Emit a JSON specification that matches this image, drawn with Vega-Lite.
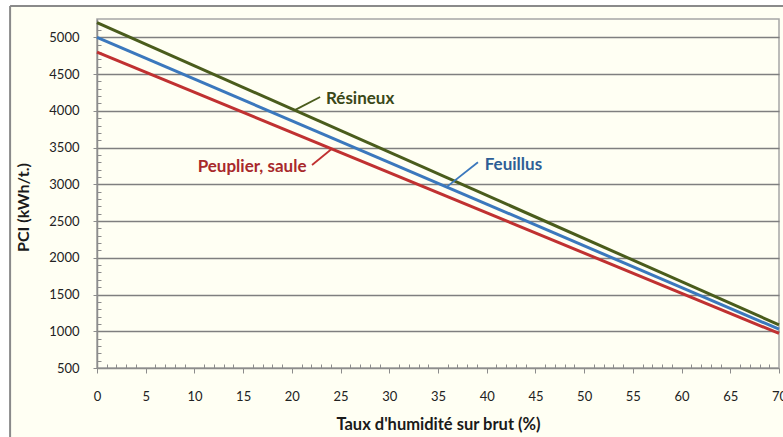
{
  "$schema": "https://vega.github.io/schema/vega-lite/v6.json",
  "width": 682,
  "height": 349,
  "autosize": {"type": "none"},
  "padding": {"left": 97, "top": 19, "right": 4, "bottom": 69},
  "background": "#FFFFF3",
  "config": {
    "view": {"stroke": "#A6A6A6", "strokeWidth": 1.5, "fill": null},
    "font": "Lato"
  },
  "resolve": {"axis": {"x": "independent", "y": "independent"}},
  "datasets": {
    "series": [
      {"espece": "Résineux", "h": 0, "pci": 5200},
      {"espece": "Résineux", "h": 70, "pci": 1088},
      {"espece": "Feuillus", "h": 0, "pci": 5000},
      {"espece": "Feuillus", "h": 70, "pci": 1028},
      {"espece": "Peuplier, saule", "h": 0, "pci": 4800},
      {"espece": "Peuplier, saule", "h": 70, "pci": 970}
    ],
    "leaders": [
      {"espece": "Résineux", "x": 20.3, "y": 4010, "x2": 22.9, "y2": 4188},
      {"espece": "Feuillus", "x": 35.9, "y": 2965, "x2": 39.1, "y2": 3300},
      {"espece": "Peuplier, saule", "x": 22.07, "y": 3263, "x2": 24.08, "y2": 3480}
    ],
    "labels": [
      {"espece": "Résineux", "x": 23.5, "y": 4165},
      {"espece": "Feuillus", "x": 39.8, "y": 3263},
      {"espece": "Peuplier, saule", "x": 21.5, "y": 3236}
    ]
  },
  "layer": [
    {
      "data": {"values": [{}]},
      "mark": {"type": "rect", "fill": "#FFFFFF"},
      "encoding": {
        "x": {"datum": -40, "type": "quantitative", "axis": null},
        "x2": {"datum": -8.92},
        "y": {"datum": 7000, "type": "quantitative", "axis": null},
        "y2": {"datum": -3000}
      }
    },
    {
      "data": {"values": [{}]},
      "mark": {"type": "rect", "fill": "#FFFFFF"},
      "encoding": {
        "x": {"datum": -40, "type": "quantitative", "axis": null},
        "x2": {"datum": 90},
        "y": {"datum": 7000, "type": "quantitative", "axis": null},
        "y2": {"datum": 5427}
      }
    },
    {
      "data": {"values": [{}]},
      "mark": {"type": "rule", "color": "#8A8A8A", "strokeWidth": 2},
      "encoding": {
        "x": {"datum": -8.92, "type": "quantitative", "axis": null},
        "y": {"datum": 5427, "type": "quantitative", "axis": null},
        "y2": {"datum": -3000}
      }
    },
    {
      "data": {"values": [{}]},
      "mark": {"type": "rule", "color": "#8A8A8A", "strokeWidth": 2},
      "encoding": {
        "x": {"datum": -8.92, "type": "quantitative", "axis": null},
        "x2": {"datum": 90},
        "y": {"datum": 5427, "type": "quantitative", "axis": null}
      }
    },
    {
      "data": {"name": "series"},
      "mark": {"type": "line", "strokeWidth": 3},
      "encoding": {
        "x": {
          "field": "h",
          "type": "quantitative",
          "scale": {"domain": [0, 70], "nice": false, "zero": false},
          "axis": {
            "title": "Taux d'humidité sur brut (%)",
            "values": [0,1,2,3,4,5,6,7,8,9,10,11,12,13,14,15,16,17,18,19,20,21,22,23,24,25,26,27,28,29,30,31,32,33,34,35,36,37,38,39,40,41,42,43,44,45,46,47,48,49,50,51,52,53,54,55,56,57,58,59,60,61,62,63,64,65,66,67,68,69,70],
            "labelExpr": "datum.value % 5 === 0 ? datum.label : ''",
            "labelOverlap": false,
            "labelFlush": false,
            "grid": false,
            "tickSize": {"condition": {"test": "datum.value % 5 === 0", "value": 5}, "value": -4},
            "tickColor": "#8C8C8C",
            "tickWidth": 1,
            "domainColor": "#8C8C8C",
            "domainWidth": 1.5,
            "labelFont": "Lato",
            "labelFontSize": 13,
            "labelColor": "#222222",
            "labelPadding": 17,
            "titleFont": "Lato",
            "titleFontSize": 16.5,
            "titleFontWeight": "bold",
            "titleColor": "#1A1A1A",
            "titlePadding": 13
          }
        },
        "y": {
          "field": "pci",
          "type": "quantitative",
          "scale": {"domain": [500, 5250], "nice": false, "zero": false},
          "axis": {
            "title": "PCI (kWh/t.)",
            "values": [500,600,700,800,900,1000,1100,1200,1300,1400,1500,1600,1700,1800,1900,2000,2100,2200,2300,2400,2500,2600,2700,2800,2900,3000,3100,3200,3300,3400,3500,3600,3700,3800,3900,4000,4100,4200,4300,4400,4500,4600,4700,4800,4900,5000,5100,5200],
            "labelExpr": "datum.value % 500 === 0 ? datum.label : ''",
            "format": "d",
            "labelOverlap": false,
            "labelFlush": false,
            "grid": true,
            "gridColor": "#7F7F7F",
            "gridWidth": 1.5,
            "gridOpacity": {"condition": {"test": "datum.value % 500 === 0 && datum.value > 500", "value": 1}, "value": 0},
            "tickSize": {"condition": {"test": "datum.value % 500 === 0", "value": 4}, "value": -4},
            "tickColor": "#8C8C8C",
            "tickWidth": 1,
            "domainColor": "#8C8C8C",
            "domainWidth": 1.5,
            "labelFont": "Lato",
            "labelFontSize": 13,
            "labelColor": "#222222",
            "labelPadding": 14,
            "titleFont": "Lato",
            "titleFontSize": 16,
            "titleFontWeight": "bold",
            "titleColor": "#1A1A1A",
            "titlePadding": 17,
            "titleY": 188
          }
        },
        "color": {
          "field": "espece",
          "type": "nominal",
          "scale": {"domain": ["Résineux", "Feuillus", "Peuplier, saule"], "range": ["#4A5C1C", "#3B78BD", "#C03131"]},
          "legend": null
        }
      }
    },
    {
      "data": {"name": "leaders"},
      "mark": {"type": "rule", "strokeWidth": 1.8},
      "encoding": {
        "x": {"field": "x", "type": "quantitative", "axis": null},
        "y": {"field": "y", "type": "quantitative", "axis": null},
        "x2": {"field": "x2"},
        "y2": {"field": "y2"},
        "color": {"field": "espece", "type": "nominal", "legend": null}
      }
    },
    {
      "data": {"name": "labels"},
      "transform": [{"filter": "datum.espece === 'Résineux'"}],
      "mark": {"type": "text", "align": "left", "baseline": "middle", "font": "Lato", "fontSize": 17, "fontWeight": "bold", "color": "#3A4818"},
      "encoding": {
        "x": {"field": "x", "type": "quantitative", "axis": null},
        "y": {"field": "y", "type": "quantitative", "axis": null},
        "text": {"field": "espece"}
      }
    },
    {
      "data": {"name": "labels"},
      "transform": [{"filter": "datum.espece === 'Feuillus'"}],
      "mark": {"type": "text", "align": "left", "baseline": "middle", "font": "Lato", "fontSize": 17, "fontWeight": "bold", "color": "#2E5E96"},
      "encoding": {
        "x": {"field": "x", "type": "quantitative", "axis": null},
        "y": {"field": "y", "type": "quantitative", "axis": null},
        "text": {"field": "espece"}
      }
    },
    {
      "data": {"name": "labels"},
      "transform": [{"filter": "datum.espece === 'Peuplier, saule'"}],
      "mark": {"type": "text", "align": "right", "baseline": "middle", "font": "Lato", "fontSize": 17, "fontWeight": "bold", "color": "#A8292B"},
      "encoding": {
        "x": {"field": "x", "type": "quantitative", "axis": null},
        "y": {"field": "y", "type": "quantitative", "axis": null},
        "text": {"field": "espece"}
      }
    }
  ]
}
